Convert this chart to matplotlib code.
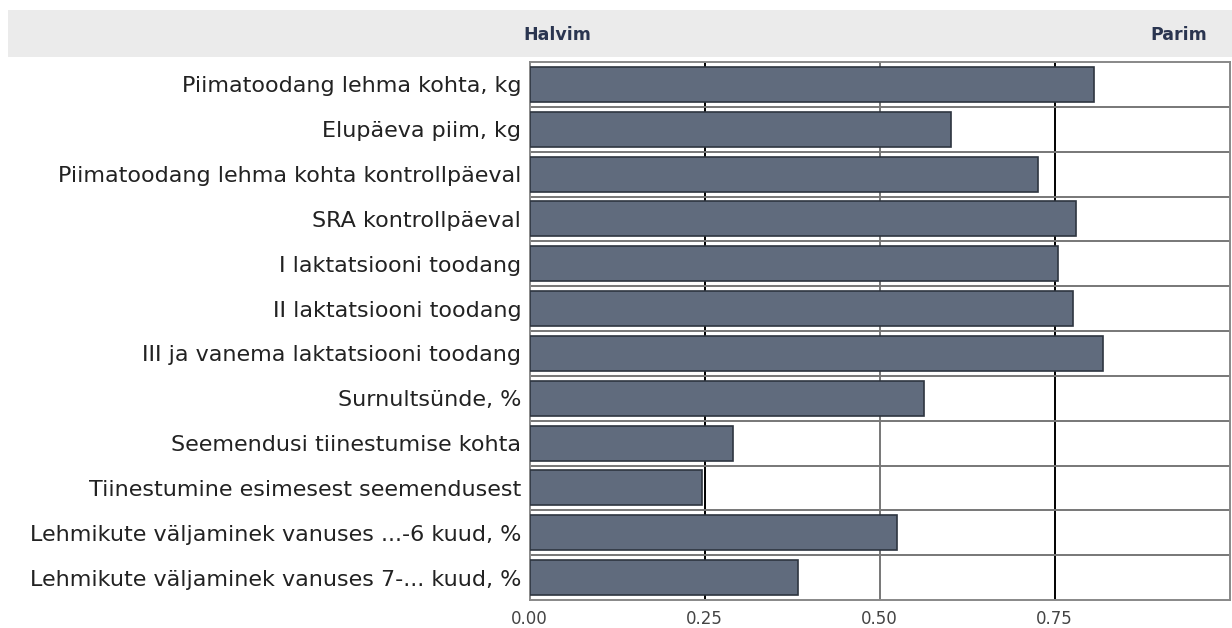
import matplotlib
matplotlib.use("Agg")
import matplotlib.pyplot as plt
from matplotlib.patches import Rectangle

# row labels, top to bottom
labels = [
    "Piimatoodang lehma kohta, kg",
    "Elupäeva piim, kg",
    "Piimatoodang lehma kohta kontrollpäeval",
    "SRA kontrollpäeval",
    "I laktatsiooni toodang",
    "II laktatsiooni toodang",
    "III ja vanema laktatsiooni toodang",
    "Surnultsünde, %",
    "Seemendusi tiinestumise kohta",
    "Tiinestumine esimesest seemendusest",
    "Lehmikute väljaminek vanuses ...-6 kuud, %",
    "Lehmikute väljaminek vanuses 7-... kuud, %",
]
values = [0.807, 0.602, 0.726, 0.781, 0.755, 0.776, 0.819,
          0.564, 0.290, 0.246, 0.525, 0.384]
xticks = [0.0, 0.25, 0.5, 0.75]
xtick_labels = ["0.00", "0.25", "0.50", "0.75"]

fig = plt.figure(figsize=(12.32, 6.28), dpi=100)

# grey header band
fig.patches.append(Rectangle((8 / 1232, 1 - 57 / 628), 1 - 8 / 1232, 47 / 628,
                             transform=fig.transFigure, facecolor="#ebebeb",
                             edgecolor="none", zorder=0))
fig.text(557 / 1232, 1 - 35 / 628, "Halvim", fontsize=12.5, fontweight="bold",
         color="#2a3550", ha="center", va="center", family="DejaVu Sans")
fig.text(1179 / 1232, 1 - 35 / 628, "Parim", fontsize=12.5, fontweight="bold",
         color="#2a3550", ha="center", va="center", family="DejaVu Sans")

ax = fig.add_axes([529.5 / 1232, 1 - 600 / 628, 700 / 1232, 538 / 628])
n = len(labels)
ypos = list(range(n))
ax.barh(ypos, values, height=0.78, color="#606b7d", edgecolor="#2e3540",
        linewidth=1.2, zorder=3)
ax.set_ylim(n - 0.5, -0.5)
ax.set_xlim(0, 1.0)

# grid: vertical at ticks, horizontal between rows
for i, x in enumerate(xticks[1:]):
    ax.axvline(x, color="#000000" if i != 1 else "#777777", lw=1.4, zorder=1)
for k in range(1, n):
    ax.axhline(k - 0.5, color="#777777", lw=1.4, zorder=1)

ax.set_yticks(ypos)
ax.set_yticklabels(labels, fontsize=16, family="DejaVu Sans", color="#222222")
ax.set_xticks(xticks)
ax.set_xticklabels(xtick_labels, fontsize=12, color="#444444", family="DejaVu Sans")
ax.tick_params(axis="both", length=0)
ax.tick_params(axis="y", pad=6)
ax.tick_params(axis="x", pad=7)
for s in ax.spines.values():
    s.set_color("#888888")
    s.set_linewidth(1.4)

fig.savefig("out.png", dpi=100)
